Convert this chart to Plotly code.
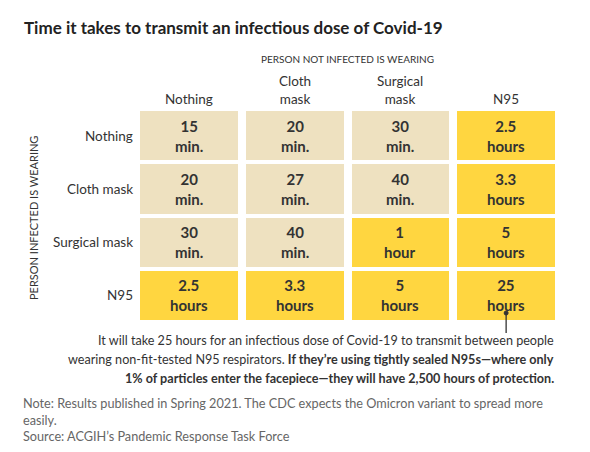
import plotly.graph_objects as go

# Data
cols = ["Nothing", "Cloth mask", "Surgical mask", "N95"]          # person NOT infected is wearing
col_labels = ["Nothing", "Cloth<br>mask", "Surgical<br>mask", "N95"]
rows = ["Nothing", "Cloth mask", "Surgical mask", "N95"]          # person infected is wearing
minutes = [
    [15, 20, 30, 150],
    [20, 27, 40, 198],
    [30, 40, 60, 300],
    [150, 198, 300, 1500],
]
labels = [
    ["15<br>min.", "20<br>min.", "30<br>min.", "2.5<br>hours"],
    ["20<br>min.", "27<br>min.", "40<br>min.", "3.3<br>hours"],
    ["30<br>min.", "40<br>min.", "1<br>hour", "5<br>hours"],
    ["2.5<br>hours", "3.3<br>hours", "5<br>hours", "25<br>hours"],
]
callout_lines = [
    "It will take 25 hours for an infectious dose of Covid-19 to transmit between people",
    "wearing non-fit-tested N95 respirators. <b>If they\u2019re using tightly sealed N95s\u2014where only</b>",
    "<b>1% of particles enter the facepiece\u2014they will have 2,500 hours of protection.</b>",
]

BEIGE = "#EEE1C0"
YELLOW = "#FFD640"
FONT = "Lato, Roboto, sans-serif"

z = [[1 if v >= 60 else 0 for v in r] for r in minutes]

fig = go.Figure(go.Heatmap(
    x=cols, y=rows, z=z,
    colorscale=[[0, BEIGE], [0.5, BEIGE], [0.5, YELLOW], [1, YELLOW]],
    zmin=0, zmax=1, showscale=False, xgap=8, ygap=4,
    hoverinfo="skip",
))

W, H = 590, 452
L, R, T, B = 136, 31, 109, 130
pw, ph = W - L - R, H - T - B
def px(x):
    return (x - L) / pw
def py(y):
    return (H - B - y) / ph

ann = []
for i, r in enumerate(rows):
    for j, c in enumerate(cols):
        ann.append(dict(x=c, y=r, xref="x", yref="y", text="<b>%s</b>" % labels[i][j],
                        showarrow=False, font=dict(family=FONT, size=15, color="#333333")))

# column headers
for j, c in enumerate(cols):
    ann.append(dict(x=c, y=1, xref="x", yref="paper", yanchor="bottom", yshift=0,
                    text=col_labels[j], showarrow=False,
                    font=dict(family=FONT, size=13.5, color="#333333")))
# row labels
for i, r in enumerate(rows):
    ann.append(dict(x=0, y=r, xref="paper", yref="y", xanchor="right", yanchor="middle", xshift=-1,
                    text=r, showarrow=False,
                    font=dict(family=FONT, size=13.5, color="#333333")))

ann += [
    dict(xref="paper", yref="paper", x=px(347.5), y=py(59), xanchor="center", yanchor="middle",
         text="PERSON NOT INFECTED IS WEARING",
         showarrow=False, font=dict(family=FONT, size=10, color="#333333")),
    dict(xref="paper", yref="paper", x=px(33), y=py(218), xanchor="center", yanchor="middle",
         text="PERSON INFECTED IS WEARING",
         textangle=-90, showarrow=False, font=dict(family=FONT, size=11, color="#333333")),
    dict(xref="paper", yref="paper", x=px(22), y=py(27), xanchor="left", yanchor="middle",
         text="<b>Time it takes to transmit an infectious dose of Covid-19</b>", showarrow=False,
         font=dict(family=FONT, size=17, color="#222222")),
    dict(xref="paper", yref="paper", x=px(21), y=py(393), xanchor="left", yanchor="top",
         align="left", showarrow=False,
         text=("Note: Results published in Spring 2021. The CDC expects the Omicron variant to spread more<br>"
               "easily.<br>Source: ACGIH\u2019s Pandemic Response Task Force"),
         font=dict(family=FONT, size=12.7, color="#666666")),
]
for k, line in enumerate(callout_lines):
    ann.append(dict(xref="paper", yref="paper", x=px(556), y=py(340 + 19 * k), xanchor="right",
                    yanchor="middle", showarrow=False, text=line,
                    font=dict(family=FONT, size=12.6, color="#333333")))

fig.update_layout(
    width=W, height=H,
    margin=dict(l=L, r=R, t=T, b=B),
    paper_bgcolor="white", plot_bgcolor="white",
    xaxis=dict(side="top", showticklabels=False, showgrid=False, zeroline=False,
               categoryorder="array", categoryarray=cols, fixedrange=True),
    yaxis=dict(showticklabels=False, showgrid=False, zeroline=False, autorange="reversed",
               categoryorder="array", categoryarray=rows, fixedrange=True),
    showlegend=False,
    annotations=ann,
)

# pointer line from the 25-hour cell
fig.add_shape(type="line", xref="x", yref="paper", x0=3, x1=3, y0=py(313), y1=py(333),
              line=dict(color="#333333", width=1.3))
fig.add_shape(type="circle", xref="x", yref="paper", xsizemode="pixel", ysizemode="pixel",
              xanchor=3, yanchor=py(313), x0=-2, x1=2, y0=-2, y1=2,
              line=dict(color="#333333", width=1), fillcolor="#333333")

fig.write_html("out.html", config={"displayModeBar": False},
               post_script="document.body.style.margin='0';")
